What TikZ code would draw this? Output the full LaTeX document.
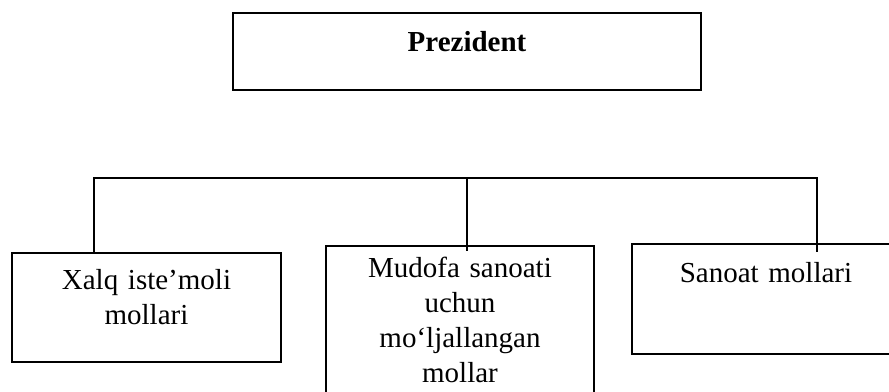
\documentclass[tikz,border=0pt]{standalone}
\usepackage{fontspec}
\setmainfont{Liberation Serif}
\usepackage{tikz}
\usetikzlibrary{positioning}

\tikzset{
  unit/.style={draw, line width=1.3pt, rectangle, inner sep=0pt},
  boss/.style={unit, line width=2pt},
  caption/.style={font=\fontsize{29}{35}\selectfont, align=center, text width=250pt, inner sep=0pt, anchor=base},
  wire/.style={line width=1.3pt}
}

\begin{document}
\begin{tikzpicture}[x=1pt, y=-1pt]
        \clip (0,0) rectangle (889,391);

        % top box
        \node[boss, minimum width=468pt, minimum height=77pt] (pres) at (467, 51.5) {};
        \node[caption] (pres-t) at ([yshift=-39pt]pres.north) {\textbf{Prezident}};

        % lower boxes
        \node[unit, minimum width=269pt, minimum height=109pt] (xalq) at (146.5, 307.5) {};
        \node[unit, minimum width=268pt, minimum height=174pt] (mudofa) at (460, 333) {};
        \node[unit, minimum width=268pt, minimum height=110pt] (sanoat) at (766, 299) {};

        \node[caption] (xalq-t) at ([yshift=-37pt]xalq.north) {Xalq iste’moli\\mollari};
        \node[caption] (mudofa-t) at ([yshift=-32pt]mudofa.north) {Mudofa sanoati\\uchun\\mo‘ljallangan\\mollar};
        \node[caption] (sanoat-t) at ([yshift=-39pt]sanoat.north) {Sanoat mollari};

        % bus line
        \coordinate (busL) at (94, 178);
        \coordinate (busM) at (467, 178);
        \coordinate (busR) at (817, 178);
        \draw[wire] ([xshift=-0.65pt]busL) -- ([xshift=0.65pt]busR);
        \draw[wire] (busL) -- (busL |- xalq.north);
        \draw[wire] (busM) -- (busM |- mudofa.north) -- ++(0, 6);
        \draw[wire] (busR) -- (busR |- sanoat.north) -- ++(0, 9);

    \end{tikzpicture}
\end{document}
